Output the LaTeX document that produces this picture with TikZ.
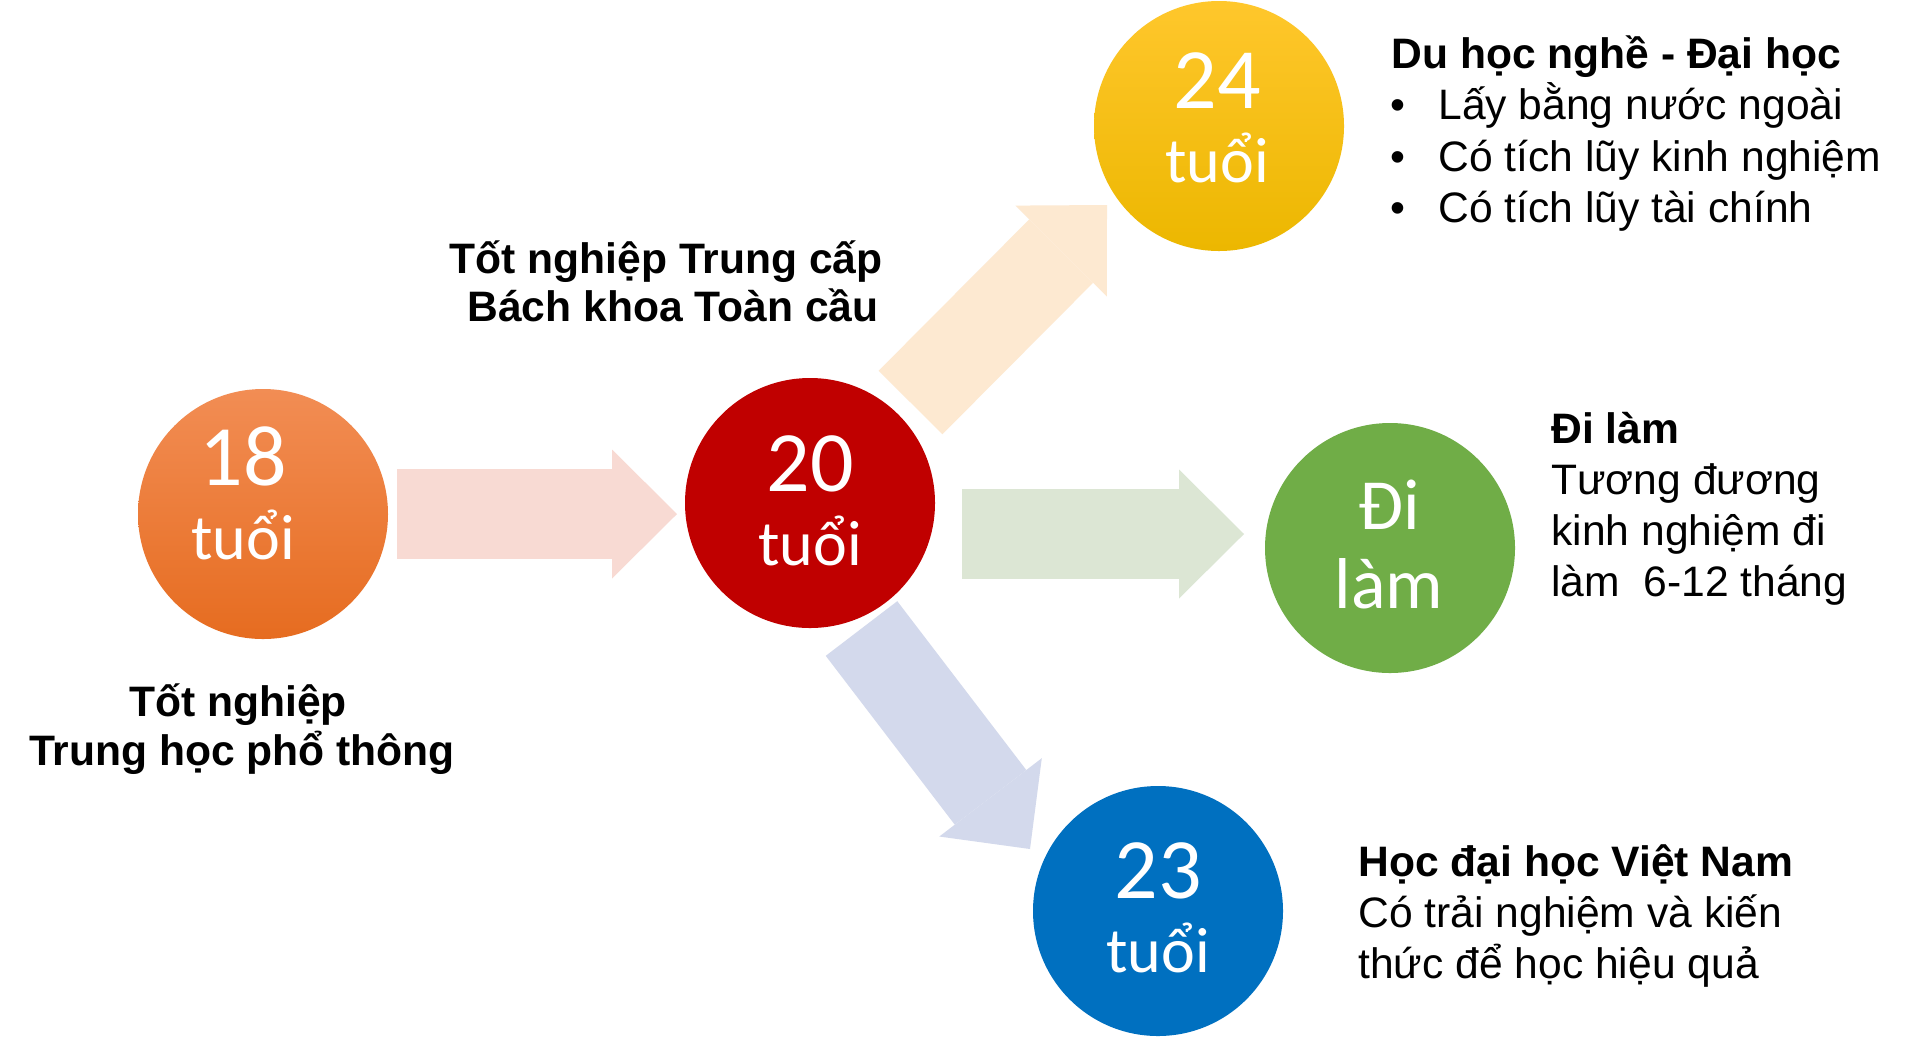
\documentclass[tikz,border=0pt]{standalone}
\usepackage{fontspec}
\setmainfont{Liberation Sans}
\newfontfamily\circfont{Carlito}
\usetikzlibrary{arrows.meta}

\definecolor{orangeTop}{RGB}{242,141,84}
\definecolor{orangeBot}{RGB}{230,108,32}
\definecolor{yellowTop}{RGB}{255,199,44}
\definecolor{yellowBot}{RGB}{236,183,0}
\definecolor{redC}{RGB}{192,0,0}
\definecolor{greenC}{RGB}{112,173,71}
\definecolor{blueC}{RGB}{0,112,192}
\definecolor{pinkA}{RGB}{248,218,211}
\definecolor{peachA}{RGB}{253,233,209}
\definecolor{greenA}{RGB}{220,230,212}
\definecolor{blueA}{RGB}{211,217,236}

\tikzset{
	age/.style={circle, minimum size=125pt, inner sep=0pt},
	agetext/.style={text=white, align=center, inner sep=0pt, font=\circfont\fontsize{32pt}{37pt}\selectfont},
	flow/.style={line width=45pt, -{Triangle[length=32.5pt, width=64.5pt, line width=0pt]}},
	head/.style={anchor=base west, inner sep=0pt, font=\fontsize{21.3pt}{25.5pt}\selectfont\bfseries},
	body/.style={anchor=base west, inner sep=0pt, font=\fontsize{21.3pt}{25.5pt}\selectfont},
}
\newcommand\nb[1]{{\fontsize{43pt}{37pt}\selectfont #1}}

\begin{document}
\begin{tikzpicture}[x=0.5pt, y=-0.5pt]
					\useasboundingbox (0,0) rectangle (1920,1040);
					\fill[white] (0,0) rectangle (1920,1040);

					%Circles
					\node[age, top color=orangeTop, bottom color=orangeBot] (c18) at (263,514) {};
					\node[age, fill=redC] (c20) at (810,503) {};
					\node[age, top color=yellowTop, bottom color=yellowBot] (c24) at (1219,126) {};
					\node[age, fill=greenC] (cdi) at (1390,548) {};
					\node[age, fill=blueC] (c23) at (1158,911) {};

					%Arrows
					\draw[flow, pinkA] ([shift={(134,0)}]c18.center) -- ([shift={(-133,11)}]c20.center);
					\draw[flow, peachA] ([shift={(100.5,-100.5)}]c20.center) -- ([shift={(-112,79)}]c24.center);
					\draw[flow, greenA] ([shift={(152,31)}]c20.center) -- ([shift={(-146,-14)}]cdi.center);
					\draw[flow, blueA] ([shift={(51.5,125.5)}]c20.center) -- ([shift={(-128,-62)}]c23.center);

					%Ages
					\node[agetext] (t18) at ([shift={(-20,-21)}]c18.center) {\nb{18}\\tuổi};
					\node[agetext] (t20) at ([shift={(0,-2)}]c20.center) {\nb{20}\\tuổi};
					\node[agetext] (t24) at ([shift={(-2,-8)}]c24.center) {\nb{24}\\tuổi};
					\node[agetext, font=\circfont\fontsize{36pt}{39.5pt}\selectfont] (tdi) at ([shift={(-1,-4)}]cdi.center) {Đi\\làm};
					\node[agetext] (t23) at ([shift={(0,-3)}]c23.center) {\nb{23}\\tuổi};

					%Labels
					\node[head, anchor=base] (tc1) at (666,273) {Tốt nghiệp Trung cấp};
					\node[head, anchor=base] (tc2) at (673,321) {Bách khoa Toàn cầu};
					\node[head, anchor=base] (tl1) at (238,716) {Tốt nghiệp};
					\node[head, anchor=base] (tl2) at (242,765) {Trung học phổ thông};

					\node[head] (h24) at (1391,68) {Du học nghề - Đại học};
					\node[body] (d1) at (1390,119) {•};
					\node[body] (d2) at (1390,171) {•};
					\node[body] (d3) at (1390,222) {•};
					\node[body] (b1) at (1438,119) {Lấy bằng nước ngoài};
					\node[body] (b2) at (1438,171) {Có tích lũy kinh nghiệm};
					\node[body] (b3) at (1438,222) {Có tích lũy tài chính};

					\node[head] (hdi) at (1551,443) {Đi làm};
					\node[body] (w1) at (1551,494) {Tương đương};
					\node[body] (w2) at (1551,545) {kinh nghiệm đi};
					\node[body] (w3) at (1551,596) {làm\ \ 6-12 tháng};

					\node[head] (h23) at (1358,876) {Học đại học Việt Nam};
					\node[body] (u1) at (1358,927) {Có trải nghiệm và kiến};
					\node[body] (u2) at (1358,978) {thức để học hiệu quả};

\end{tikzpicture}
\end{document}
